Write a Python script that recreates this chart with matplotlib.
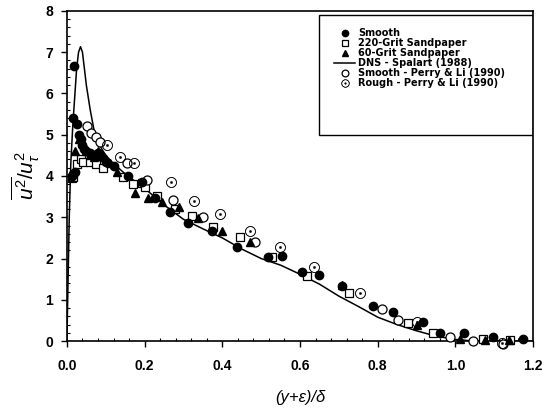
import matplotlib
matplotlib.use("Agg")
import matplotlib.pyplot as plt
from matplotlib.ticker import MultipleLocator, FormatStrFormatter
from matplotlib.patches import Rectangle

plt.rcParams['font.family'] = ['Liberation Sans', 'DejaVu Sans']
plt.rcParams['mathtext.fontset'] = 'custom'
plt.rcParams['mathtext.rm'] = 'Liberation Sans'
plt.rcParams['mathtext.it'] = 'Liberation Sans:italic'

# Present measurements
smooth_x = [0.012, 0.015, 0.016, 0.019, 0.022, 0.026, 0.030, 0.035, 0.040, 0.045, 0.050,
            0.060, 0.070, 0.080, 0.090, 0.100, 0.120, 0.158, 0.192, 0.227, 0.265, 0.312,
            0.373, 0.437, 0.518, 0.553, 0.604, 0.650, 0.707, 0.789, 0.840, 0.916, 0.961,
            1.021, 1.098, 1.175]
smooth_y = [4.00, 4.05, 5.40, 6.67, 4.10, 5.25, 5.00, 4.90, 4.75, 4.65, 4.60,
            4.55, 4.50, 4.55, 4.45, 4.35, 4.25, 4.00, 3.85, 3.47, 3.12, 2.85,
            2.67, 2.29, 2.04, 2.07, 1.68, 1.60, 1.33, 0.85, 0.70, 0.47, 0.19,
            0.20, 0.10, 0.06]

grit220_x = [0.012, 0.016, 0.025, 0.035, 0.042, 0.059, 0.075, 0.094, 0.145, 0.171,
             0.192, 0.201, 0.233, 0.278, 0.323, 0.377, 0.446, 0.527, 0.617, 0.725,
             0.879, 0.943, 1.072, 1.141]
grit220_y = [3.95, 3.98, 4.30, 4.40, 4.35, 4.35, 4.30, 4.19, 3.98, 3.80,
             3.82, 3.73, 3.52, 3.21, 3.04, 2.76, 2.53, 2.03, 1.58, 1.16,
             0.43, 0.20, 0.06, 0.03]

grit60_x = [0.020, 0.030, 0.040, 0.050, 0.060, 0.070, 0.080, 0.090, 0.100, 0.111,
            0.128, 0.175, 0.209, 0.244, 0.289, 0.338, 0.398, 0.471, 0.707, 0.900,
            1.012, 1.076, 1.137]
grit60_y = [4.60, 4.90, 4.80, 4.60, 4.50, 4.45, 4.60, 4.50, 4.40, 4.31,
            4.10, 3.58, 3.46, 3.38, 3.26, 2.97, 2.67, 2.41, 1.36, 0.39,
            0.06, 0.02, 0.02]

# Spalart (1988) DNS profile
dns_x = [0.0, 0.003, 0.006, 0.010, 0.015, 0.020, 0.025, 0.030, 0.035, 0.040, 0.045,
         0.050, 0.055, 0.060, 0.070, 0.080, 0.100, 0.120, 0.150, 0.200, 0.250, 0.300,
         0.350, 0.400, 0.450, 0.500, 0.550, 0.600, 0.650, 0.700, 0.750, 0.800, 0.850,
         0.900, 0.950, 1.000, 1.050, 1.100, 1.200]
dns_y = [0.0, 1.5, 3.0, 4.3, 5.2, 5.9, 6.6, 7.0, 7.13, 7.0, 6.6,
         6.2, 5.9, 5.6, 5.1, 4.8, 4.5, 4.3, 4.05, 3.7, 3.3, 2.95,
         2.72, 2.50, 2.23, 2.00, 1.84, 1.62, 1.38, 1.09, 0.84, 0.58, 0.40,
         0.25, 0.12, 0.04, 0.0, 0.0, 0.0]

# Perry & Li (1990)
perry_smooth_x = [0.051, 0.062, 0.076, 0.085, 0.155, 0.205, 0.272, 0.351, 0.484,
                  0.810, 0.853, 0.986, 1.046, 1.122]
perry_smooth_y = [5.20, 5.05, 4.95, 4.83, 4.31, 3.90, 3.43, 3.01, 2.41,
                  0.77, 0.51, 0.10, 0.01, -0.08]

perry_rough_x = [0.102, 0.137, 0.173, 0.268, 0.327, 0.394, 0.470, 0.549, 0.637,
                 0.755, 0.900, 1.120]
perry_rough_y = [4.75, 4.45, 4.31, 3.86, 3.40, 3.09, 2.67, 2.29, 1.79,
                 1.16, 0.47, -0.05]

fig = plt.figure(figsize=(5.44, 4.16), dpi=100)
ax = fig.add_axes([0.123, 0.180, 0.857, 0.794])

ms = 6
mew = 0.9
dns_line, = ax.plot(dns_x, dns_y, color='black', lw=1.1, zorder=2)
sm, = ax.plot(smooth_x, smooth_y, 'o', color='black', ms=ms, zorder=4, clip_on=False)
g220, = ax.plot(grit220_x, grit220_y, 's', mfc='white', mec='black', mew=mew, ms=ms - 0.3,
                zorder=3, clip_on=False)
g60, = ax.plot(grit60_x, grit60_y, '^', color='black', ms=ms, zorder=4, clip_on=False)
ps, = ax.plot(perry_smooth_x, perry_smooth_y, 'o', mfc='white', mec='black', mew=mew,
              ms=ms + 0.5, zorder=3, clip_on=False)
pr, = ax.plot(perry_rough_x, perry_rough_y, marker=r'$\odot$', ls='none', color='black',
              ms=ms + 1.5, mew=0.3, zorder=3, clip_on=False)

ax.set_xlim(0, 1.2)
ax.set_ylim(0, 8)
ax.xaxis.set_major_locator(MultipleLocator(0.2))
ax.xaxis.set_minor_locator(MultipleLocator(0.04))
ax.yaxis.set_major_locator(MultipleLocator(1))
ax.yaxis.set_minor_locator(MultipleLocator(0.2))
ax.xaxis.set_major_formatter(FormatStrFormatter('%.1f'))
ax.yaxis.set_major_formatter(FormatStrFormatter('%d'))
ax.tick_params(which='major', direction='out', length=4, width=1, labelsize=10)
ax.tick_params(axis='x', which='major', pad=9)
ax.tick_params(axis='y', which='major', pad=6)
ax.tick_params(which='minor', direction='in', length=2.5, width=0.8)
for lab in ax.get_xticklabels() + ax.get_yticklabels():
    lab.set_fontweight('bold')
for sp in ax.spines.values():
    sp.set_linewidth(1.2)

ax.set_xlabel('(y+ε)/δ', fontsize=12, fontstyle='italic', labelpad=12)
ax.set_ylabel(r'$\overline{u^2}/u_\tau^2$', fontsize=15, labelpad=2)

handles = [sm, g220, g60, dns_line, ps, pr]
labels = ['Smooth', '220-Grit Sandpaper', '60-Grit Sandpaper', 'DNS - Spalart (1988)',
          'Smooth - Perry & Li (1990)', 'Rough - Perry & Li (1990)']
leg = ax.legend(handles, labels, loc='upper left', bbox_to_anchor=(0.558, 0.968),
                frameon=False, prop={'family': 'DejaVu Sans', 'weight': 'bold', 'size': 7},
                handlelength=2.2, handletextpad=0.3, labelspacing=0.0, borderpad=0.2,
                markerscale=0.75)
ax.add_patch(Rectangle((0.541, 0.624), 0.459, 0.364, transform=ax.transAxes,
                       fill=False, ec='black', lw=1.0, zorder=5))

fig.savefig('out.png', dpi=100)
